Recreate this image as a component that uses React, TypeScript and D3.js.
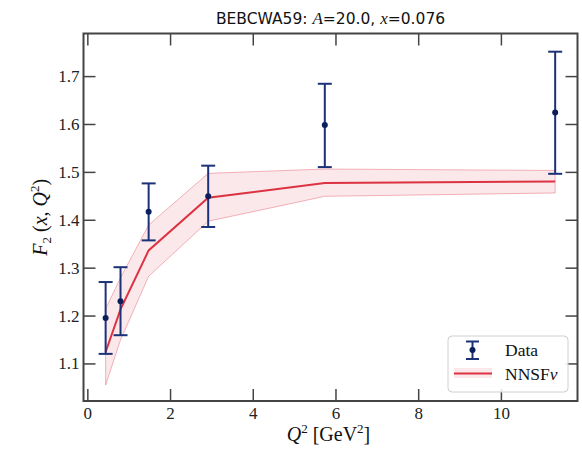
import React from "react";
import * as d3 from "d3";

const q2 = [0.43, 0.79, 1.47, 2.91, 5.73, 11.3];
const dataF2 = [1.196, 1.231, 1.418, 1.45, 1.599, 1.625];
const dataErrLow = [1.121, 1.16, 1.358, 1.386, 1.511, 1.497];
const dataErrHigh = [1.271, 1.302, 1.477, 1.514, 1.685, 1.752];

const predMean = [1.125, 1.214, 1.337, 1.447, 1.478, 1.481];
const predLow = [1.056, 1.15, 1.283, 1.398, 1.45, 1.457];
const predHigh = [1.215, 1.28, 1.39, 1.498, 1.507, 1.504];

const xTicks = [0, 2, 4, 6, 8, 10];
const yTicks = [1.1, 1.2, 1.3, 1.4, 1.5, 1.6, 1.7];

const W = 582, H = 457;
const M = { left: 83.5, right: 577.5, top: 33.5, bottom: 401 };

export default function App() {
  const x = d3.scaleLinear().domain([-0.105, 11.84]).range([M.left, M.right]);
  const y = d3.scaleLinear().domain([1.0226, 1.79]).range([M.bottom, M.top]);

  const band = d3
    .area<number>()
    .x((_, i) => x(q2[i]))
    .y0((_, i) => y(predLow[i]))
    .y1((_, i) => y(predHigh[i]));
  const line = d3
    .line<number>()
    .x((_, i) => x(q2[i]))
    .y((d) => y(d));

  const axisColor = "#444";
  const tickLen = 12;
  const dataColor = "#1c3278";
  const dotColor = "#0a1f5c";
  const red = "#dc3242";
  const serif = "'Liberation Serif', 'DejaVu Serif', serif";
  const sans = "'DejaVu Sans', 'Liberation Sans', sans-serif";

  return (
    <svg width={W} height={H} style={{ position: "absolute", left: 0, top: 0 }}>
      <rect width={W} height={H} fill="white" />
      {/* title */}
      <text x={(M.left + M.right) / 2} y={24} textAnchor="middle" fontSize={15.5} fontFamily={sans} fill="#111">
        BEBCWA59:{" "}
        <tspan fontFamily={serif} fontStyle="italic" fontSize={17}>A</tspan>
        <tspan>=20.0, </tspan>
        <tspan fontFamily={serif} fontStyle="italic" fontSize={17}>x</tspan>
        <tspan>=0.076</tspan>
      </text>

      {/* band and line */}
      <path d={band(predMean) || ""} fill={red} fillOpacity={0.11} stroke={red} strokeOpacity={0.35} strokeWidth={1} />
      <path d={line(predMean) || ""} fill="none" stroke={red} strokeWidth={2} />

      {/* data */}
      {q2.map((q, i) => (
        <g key={i}>
          <line x1={x(q)} x2={x(q)} y1={y(dataErrLow[i])} y2={y(dataErrHigh[i])} stroke={dataColor} strokeWidth={2} />
          <line x1={x(q) - 7} x2={x(q) + 7} y1={y(dataErrLow[i])} y2={y(dataErrLow[i])} stroke={dataColor} strokeWidth={2} />
          <line x1={x(q) - 7} x2={x(q) + 7} y1={y(dataErrHigh[i])} y2={y(dataErrHigh[i])} stroke={dataColor} strokeWidth={2} />
          <circle cx={x(q)} cy={y(dataF2[i])} r={3} fill={dotColor} />
        </g>
      ))}

      {/* ticks */}
      {xTicks.map((t) => (
        <g key={"x" + t}>
          <line x1={x(t)} x2={x(t)} y1={M.bottom} y2={M.bottom - tickLen} stroke={axisColor} strokeWidth={1.5} />
          <line x1={x(t)} x2={x(t)} y1={M.top} y2={M.top + tickLen} stroke={axisColor} strokeWidth={1.5} />
          <text x={x(t)} y={M.bottom + 18} textAnchor="middle" fontSize={17} fontFamily={serif} fill="#222">
            {t}
          </text>
        </g>
      ))}
      {yTicks.map((t) => (
        <g key={"y" + t}>
          <line x1={M.left} x2={M.left + tickLen} y1={y(t)} y2={y(t)} stroke={axisColor} strokeWidth={1.5} />
          <line x1={M.right} x2={M.right - tickLen} y1={y(t)} y2={y(t)} stroke={axisColor} strokeWidth={1.5} />
          <text x={M.left - 4} y={y(t) + 5.5} textAnchor="end" fontSize={17} fontFamily={serif} fill="#222">
            {t.toFixed(1)}
          </text>
        </g>
      ))}

      {/* frame */}
      <rect x={M.left} y={M.top} width={M.right - M.left} height={M.bottom - M.top} fill="none" stroke={axisColor} strokeWidth={2} />

      {/* axis labels */}
      <text x={(M.left + M.right) / 2 - 2} y={441} textAnchor="middle" fontSize={20} fontFamily={serif} fill="#111">
        <tspan fontStyle="italic">Q</tspan>
        <tspan fontSize={13} dy={-8}>2</tspan>
        <tspan dy={8}> [GeV</tspan>
        <tspan fontSize={13} dy={-8}>2</tspan>
        <tspan dy={8}>]</tspan>
      </text>
      <text transform={`translate(47, ${(M.top + M.bottom) / 2}) rotate(-90)`} textAnchor="middle" fontSize={20} fontFamily={serif} fill="#111">
        <tspan fontStyle="italic">F</tspan>
        <tspan fontSize={13} dy={4}>2</tspan>
        <tspan dy={-4}> (</tspan>
        <tspan fontStyle="italic">x</tspan>
        <tspan>, </tspan>
        <tspan fontStyle="italic">Q</tspan>
        <tspan fontSize={13} dy={-8}>2</tspan>
        <tspan dy={8}>)</tspan>
      </text>

      {/* legend */}
      <g>
        <rect x={448} y={336} width={120} height={56} rx={4} fill="white" fillOpacity={0.85} stroke="#d0d0d0" strokeWidth={1} />
        <line x1={472.5} x2={472.5} y1={341.5} y2={359} stroke={dataColor} strokeWidth={2} />
        <line x1={466} x2={479} y1={341.5} y2={341.5} stroke={dataColor} strokeWidth={2} />
        <line x1={466} x2={479} y1={359} y2={359} stroke={dataColor} strokeWidth={2} />
        <circle cx={472.5} cy={350} r={3} fill={dotColor} />
        <text x={505} y={356} fontSize={17.5} fontFamily={serif} fill="#111">Data</text>
        <rect x={454} y={368} width={38} height={10} fill={red} fillOpacity={0.11} />
        <line x1={454} x2={492} y1={373.5} y2={373.5} stroke={red} strokeWidth={2} />
        <text x={505} y={380} fontSize={17.5} fontFamily={serif} fill="#111">
          NNSF<tspan fontStyle="italic">ν</tspan>
        </text>
      </g>
    </svg>
  );
}
